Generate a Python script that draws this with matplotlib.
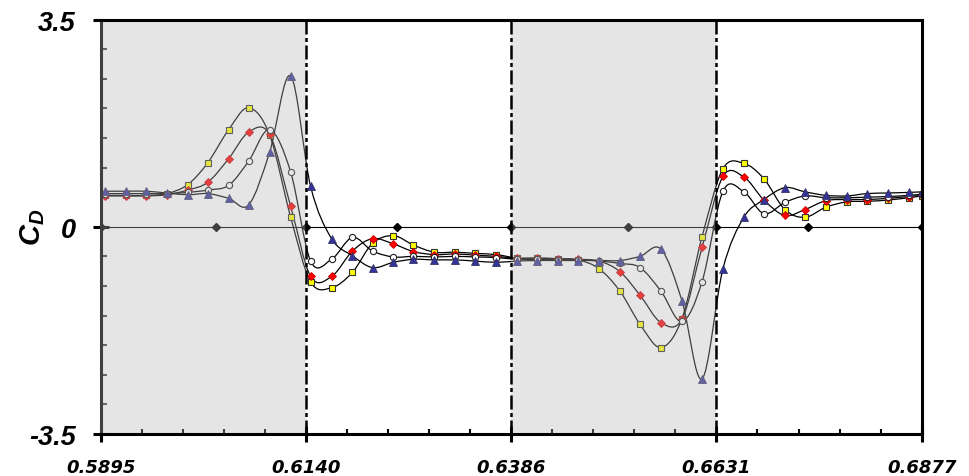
import numpy as np
import matplotlib
matplotlib.use("Agg")
import matplotlib.pyplot as plt
from matplotlib.path import Path
from matplotlib.patches import PathPatch
from matplotlib.ticker import MultipleLocator, FixedLocator

# phase positions of the samples
x = [0.5900, 0.5925, 0.5949, 0.5974, 0.5999, 0.6023, 0.6048, 0.6072, 0.6097, 0.6122,
     0.6146, 0.6171, 0.6196, 0.6220, 0.6245, 0.6269, 0.6294, 0.6319, 0.6343, 0.6368,
     0.6393, 0.6417, 0.6442, 0.6466, 0.6491, 0.6516, 0.6540, 0.6565, 0.6590, 0.6614,
     0.6639, 0.6664, 0.6688, 0.6713, 0.6737, 0.6762, 0.6787, 0.6811, 0.6836, 0.6861,
     0.6877]

cd_square = [0.53, 0.53, 0.53, 0.56, 0.71, 1.08, 1.64, 2.01, 1.55, 0.17,
             -0.93, -1.03, -0.77, -0.28, -0.15, -0.31, -0.43, -0.43, -0.45, -0.47,
             -0.53, -0.53, -0.54, -0.56, -0.71, -1.09, -1.65, -2.04, -1.55, -0.17,
             0.98, 1.07, 0.81, 0.29, 0.16, 0.33, 0.42, 0.43, 0.45, 0.49,
             0.52]
cd_diamond = [0.52, 0.52, 0.52, 0.54, 0.62, 0.75, 1.15, 1.60, 1.56, 0.35,
              -0.84, -0.84, -0.41, -0.20, -0.29, -0.42, -0.47, -0.46, -0.48, -0.50,
              -0.53, -0.53, -0.54, -0.55, -0.58, -0.76, -1.16, -1.62, -1.56, -0.35,
              0.85, 0.84, 0.45, 0.19, 0.29, 0.44, 0.46, 0.46, 0.48, 0.51,
              0.53]
cd_circle = [0.56, 0.56, 0.56, 0.56, 0.58, 0.62, 0.70, 1.11, 1.64, 0.93,
             -0.58, -0.55, -0.18, -0.41, -0.51, -0.50, -0.51, -0.50, -0.51, -0.52,
             -0.55, -0.55, -0.56, -0.56, -0.58, -0.62, -0.69, -1.09, -1.60, -0.93,
             0.60, 0.59, 0.22, 0.41, 0.52, 0.49, 0.49, 0.50, 0.51, 0.53,
             0.55]
cd_triangle = [0.60, 0.60, 0.60, 0.57, 0.54, 0.56, 0.48, 0.37, 1.26, 2.55,
               0.68, -0.20, -0.49, -0.69, -0.60, -0.55, -0.56, -0.56, -0.58, -0.60,
               -0.58, -0.57, -0.57, -0.57, -0.57, -0.57, -0.50, -0.38, -1.25, -2.57,
               -0.71, 0.16, 0.46, 0.66, 0.59, 0.53, 0.52, 0.56, 0.57, 0.58,
               0.59]

zero_x = [0.5895, 0.6033, 0.6140, 0.6249, 0.6386, 0.6526, 0.6631, 0.6741, 0.6877]
zero_y = [0, 0, 0, 0, 0, 0, 0, 0, 0]

shaded = [(0.5895, 0.6140), (0.6386, 0.6631)]
dashdot_x = [0.6140, 0.6386, 0.6631]
xticks = [0.5895, 0.6140, 0.6386, 0.6631, 0.6877]
xticklabels = ["0.5895", "0.6140", "0.6386", "0.6631", "0.6877"]
yticks = [-3.5, 0, 3.5]
yticklabels = ["-3.5", "0", "3.5"]


def smooth_path(xs, ys):
    # excel style smoothed line as bezier segments
    p = np.column_stack([xs, ys])
    n = len(p)
    verts = [p[0]]
    codes = [Path.MOVETO]
    for i in range(n - 1):
        a = p[i - 1] if i > 0 else p[i]
        d = p[i + 2] if i + 2 < n else p[i + 1]
        verts += [p[i] + (p[i + 1] - a) / 6, p[i + 1] - (d - p[i]) / 6, p[i + 1]]
        codes += [Path.CURVE4] * 3
    return Path(verts, codes)


plt.rcParams["mathtext.fontset"] = "custom"
plt.rcParams["mathtext.it"] = "Liberation Sans:bold:italic"
plt.rcParams["mathtext.rm"] = "Liberation Sans:bold"

fig = plt.figure(figsize=(9.7, 4.77), dpi=100)
ax = fig.add_axes([100.7 / 970, 1 - 435 / 477, 821.3 / 970, 414.5 / 477])

ax.axhline(0, color="black", lw=0.8, zorder=1)

series = [
    (cd_square, dict(marker="s", ms=5, mfc="#ffff00", mec="#333333", mew=0.8)),
    (cd_diamond, dict(marker="D", ms=3.6, mfc="#ff0000", mec="#cc0000", mew=0.6)),
    (cd_circle, dict(marker="o", ms=4.5, mfc="white", mec="#222222", mew=0.8)),
    (cd_triangle, dict(marker="^", ms=5.5, mfc="#333399", mec="#333366", mew=0.6)),
]
for ys, style in series:
    ax.add_patch(PathPatch(smooth_path(x, ys), fc="none", ec="black", lw=0.9, zorder=2))
    ax.plot(x, ys, ls="none", zorder=3, **style)

ax.plot(zero_x, zero_y, ls="none", marker="D", ms=4.2, color="black", zorder=3)

for x0, x1 in shaded:
    ax.axvspan(x0, x1, color="#b5b5b5", alpha=0.35, lw=0, zorder=4)

for xv in dashdot_x:
    ax.axvline(xv, color="black", lw=1.8, ls=(0, (5.6, 1.4, 1.6, 1.4)), zorder=5)

ax.set_xlim(0.5895, 0.6877)
ax.set_ylim(-3.5, 3.5)

ax.set_xticks(xticks)
ax.set_xticklabels(xticklabels, fontfamily="DejaVu Sans", fontweight="bold",
                   fontstyle="italic", fontsize=13)
minor_x = []
for a, b in zip(xticks[:-1], xticks[1:]):
    minor_x += list(np.linspace(a, b, 6)[1:-1])
ax.xaxis.set_minor_locator(FixedLocator(minor_x))
ax.set_yticks(yticks)
ax.set_yticklabels(yticklabels, fontfamily="Liberation Sans", fontweight="bold",
                   fontstyle="italic", fontsize=19.5)
ax.yaxis.set_minor_locator(MultipleLocator(0.5))

ax.tick_params(axis="x", which="major", direction="inout", length=11, width=2.2, pad=12)
ax.tick_params(axis="x", which="minor", direction="in", length=3.5, width=1.5)
ax.tick_params(axis="y", which="major", direction="inout", length=12, width=2.2, pad=12)
ax.tick_params(axis="y", which="minor", direction="in", length=4.5, width=1.5,
               color="#404040")

for side in ["bottom", "top", "right", "left"]:
    ax.spines[side].set_linewidth(2.2)
    ax.spines[side].set_zorder(6)
ax.spines["left"].set_color("#404040")

ax.text(-0.083, 0.5, r"$C_D$", rotation=90, ha="center", va="center",
        fontsize=21, transform=ax.transAxes)

fig.savefig("out.png", dpi=100)
